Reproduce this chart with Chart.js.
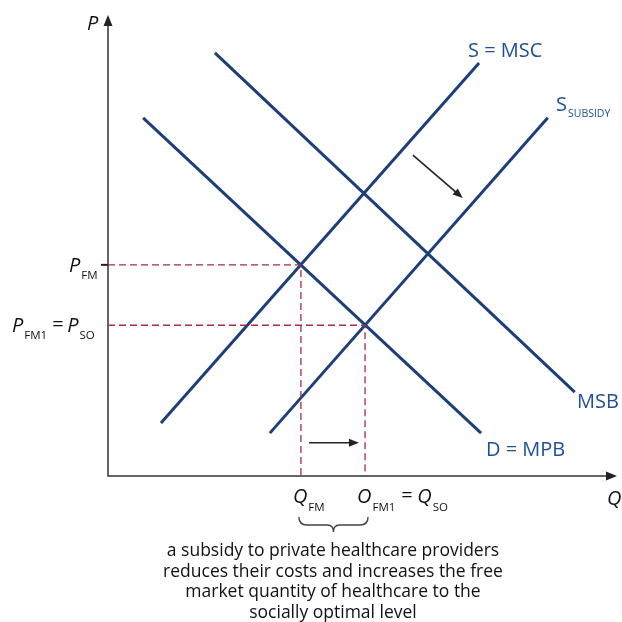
<!DOCTYPE html>
<html>
<head>
<meta charset="utf-8">
<title>Healthcare subsidy</title>
<script src="https://cdn.jsdelivr.net/npm/chart.js@4.4.1/dist/chart.umd.min.js"></script>
<style>
  body { margin: 0; background: #fff; }
  #wrap { width: 622px; height: 622px; }
</style>
</head>
<body>
<div id="wrap"><canvas id="diagram" width="622" height="622"></canvas></div>
<script>
// Curves (Q, P), axes run 0..100
const mscLine = [{x: 10.4, y: 11.5}, {x: 72.9, y: 89.6}];
const subsidyLine = [{x: 31.8, y: 9.3}, {x: 86.4, y: 77.7}];
const mpbLine = [{x: 6.9, y: 77.7}, {x: 73.3, y: 9.3}];
const msbLine = [{x: 21.0, y: 91.8}, {x: 91.7, y: 18.2}];

// Equilibria
const qFM = 37.9, pFM = 45.8;
const qSO = 50.5, pSO = 32.7;

// Shift arrows
const shiftArrow = [{x: 59.9, y: 69.6}, {x: 69.7, y: 60.3}];
const qtyArrow = [{x: 39.5, y: 7.2}, {x: 49.3, y: 7.2}];

const captionLines = [
  'a subsidy to private healthcare providers',
  'reduces their costs and increases the free',
  'market quantity of healthcare to the',
  'socially optimal level'
];

const navy = '#1d3f78';
const labelBlue = '#1f4f96';
const dashRed = '#a52a4c';
const font = '"Open Sans", "Noto Sans", sans-serif';

function curve(data) {
  return {
    data: data, showLine: true, borderColor: navy, borderWidth: 3,
    pointRadius: 0, borderCapStyle: 'butt', fill: false
  };
}

function dashed(data) {
  return {
    data: data, showLine: true, borderColor: dashRed, borderWidth: 1.3,
    borderDash: [7, 4], pointRadius: 0, fill: false
  };
}

// draw "main" + subscript, returns x after text
function subText(ctx, x, y, main, sub, mainFont, subFont, dy) {
  ctx.font = mainFont;
  ctx.fillText(main, x, y);
  let w = ctx.measureText(main).width;
  ctx.font = subFont;
  ctx.fillText(sub, x + w + 1, y + dy);
  return x + w + 1 + ctx.measureText(sub).width;
}

function arrowHead(ctx, x1, y1, x2, y2, len, half) {
  const a = Math.atan2(y2 - y1, x2 - x1);
  ctx.beginPath();
  ctx.moveTo(x2, y2);
  ctx.lineTo(x2 - len * Math.cos(a) + half * Math.sin(a), y2 - len * Math.sin(a) - half * Math.cos(a));
  ctx.lineTo(x2 - len * Math.cos(a) - half * Math.sin(a), y2 - len * Math.sin(a) + half * Math.cos(a));
  ctx.closePath();
  ctx.fill();
}

const decorations = {
  id: 'decorations',
  beforeDatasetsDraw(chart) {
    const ctx = chart.ctx, a = chart.chartArea;
    ctx.save();
    ctx.strokeStyle = '#333';
    ctx.fillStyle = '#222';
    ctx.lineWidth = 1.5;
    ctx.beginPath();
    ctx.moveTo(a.left, a.top + 6);
    ctx.lineTo(a.left, a.bottom);
    ctx.lineTo(a.right - 6, a.bottom);
    ctx.stroke();
    arrowHead(ctx, a.left, a.bottom, a.left, a.top, 11, 4.5);
    arrowHead(ctx, a.left, a.bottom, a.right, a.bottom, 11, 4.5);
    ctx.restore();
  },
  afterDatasetsDraw(chart) {
    const ctx = chart.ctx, a = chart.chartArea;
    const xs = chart.scales.x, ys = chart.scales.y;
    const px = v => xs.getPixelForValue(v);
    const py = v => ys.getPixelForValue(v);
    ctx.save();

    // tick mark at P_FM
    ctx.strokeStyle = '#222';
    ctx.lineWidth = 2;
    ctx.beginPath();
    ctx.moveTo(a.left - 7, py(pFM));
    ctx.lineTo(a.left, py(pFM));
    ctx.stroke();

    // shift arrows
    [shiftArrow, qtyArrow].forEach(arr => {
      const x1 = px(arr[0].x), y1 = py(arr[0].y), x2 = px(arr[1].x), y2 = py(arr[1].y);
      const ang = Math.atan2(y2 - y1, x2 - x1);
      ctx.strokeStyle = '#222';
      ctx.fillStyle = '#222';
      ctx.lineWidth = 1.6;
      ctx.beginPath();
      ctx.moveTo(x1, y1);
      ctx.lineTo(x2 - 6 * Math.cos(ang), y2 - 6 * Math.sin(ang));
      ctx.stroke();
      arrowHead(ctx, x1, y1, x2, y2, 10, 4);
    });

    // axis names
    ctx.fillStyle = '#111';
    ctx.textBaseline = 'alphabetic';
    ctx.textAlign = 'left';
    ctx.font = 'italic 20px ' + font;
    ctx.fillText('P', 87, 30);
    ctx.fillText('Q', 607, 505);

    // price labels
    const big = 'italic 20px ' + font, small = '11.5px ' + font;
    subText(ctx, 69, py(pFM) + 7, 'P', 'FM', big, small, 7);
    let x = subText(ctx, 12, py(pSO) + 7, 'P', 'FM1', big, small, 7);
    ctx.font = '20px ' + font;
    ctx.fillText('=', x + 5, py(pSO) + 6);
    subText(ctx, x + 20, py(pSO) + 7, 'P', 'SO', big, small, 7);

    // quantity labels
    subText(ctx, px(qFM) - 8, 503, 'Q', 'FM', big, small, 8);
    x = subText(ctx, px(qSO) - 8, 503, 'O', 'FM1', big, small, 8);
    ctx.font = '20px ' + font;
    ctx.fillText('=', x + 6, 502);
    subText(ctx, x + 22, 503, 'Q', 'SO', big, small, 8);

    // curve labels
    ctx.fillStyle = labelBlue;
    ctx.font = '20px ' + font;
    ctx.fillText('S = MSC', 468, 57);
    subText(ctx, 556, 111, 'S', 'SUBSIDY', '20px ' + font, '10.5px ' + font, 6);
    ctx.font = '20px ' + font;
    ctx.fillText('MSB', 577, 408);
    ctx.fillText('D = MPB', 486, 456);

    // brace under Q_FM .. Q_SO
    const bl = px(qFM) - 2, br = px(qSO) + 3, bm = (bl + br) / 2;
    const bt = 517, bb = 525;
    ctx.strokeStyle = '#444';
    ctx.lineWidth = 1.4;
    ctx.beginPath();
    ctx.moveTo(bl, bt);
    ctx.quadraticCurveTo(bl, bb, bl + 8, bb);
    ctx.lineTo(bm - 6, bb);
    ctx.quadraticCurveTo(bm, bb, bm, bb + 7);
    ctx.quadraticCurveTo(bm, bb, bm + 6, bb);
    ctx.lineTo(br - 8, bb);
    ctx.quadraticCurveTo(br, bb, br, bt);
    ctx.stroke();

    // caption
    ctx.fillStyle = '#111';
    ctx.textAlign = 'center';
    ctx.font = '17.5px ' + font;
    captionLines.forEach((line, i) => {
      ctx.fillText(line, 333, 556 + i * 20.5);
    });
    ctx.restore();
  }
};

new Chart(document.getElementById('diagram'), {
  type: 'scatter',
  data: {
    datasets: [
      dashed([{x: 0, y: pFM}, {x: qFM, y: pFM}, {x: qFM, y: 0}]),
      dashed([{x: 0, y: pSO}, {x: qSO, y: pSO}, {x: qSO, y: 0}]),
      curve(mscLine),
      curve(subsidyLine),
      curve(mpbLine),
      curve(msbLine)
    ]
  },
  options: {
    responsive: false,
    animation: false,
    layout: { padding: { left: 108, right: 5, top: 15, bottom: 146 } },
    scales: {
      x: { type: 'linear', min: 0, max: 100, display: false },
      y: { type: 'linear', min: 0, max: 100, display: false }
    },
    plugins: { legend: { display: false }, tooltip: { enabled: false } }
  },
  plugins: [decorations]
});
</script>
</body>
</html>
